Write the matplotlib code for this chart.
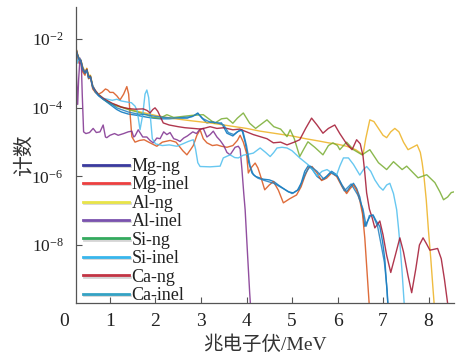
import numpy as np
import matplotlib
matplotlib.use("Agg")
import matplotlib.pyplot as plt
from matplotlib.lines import Line2D
from matplotlib import patheffects as pe
from matplotlib import transforms as mtrans
from matplotlib.ticker import FixedLocator, FixedFormatter, NullLocator

# ---------------------------------------------------------------- data
# energies in MeV, counts stored as log10 exponents
series_names = ["Mg-ng", "Mg-inel", "Al-ng", "Al-inel",
                "Si-ng", "Si-inel", "Ca-ng", "Ca-inel"]

early_x = [0.25, 0.28, 0.32, 0.36, 0.40, 0.45, 0.49, 0.53, 0.57, 0.62, 0.68, 0.75, 0.85, 0.95]

mg_ng_x = early_x + [1.05, 1.15, 1.25, 1.4, 1.6, 1.8, 1.95, 2.1, 2.3, 2.5, 2.7, 2.85, 2.93, 3.02,
                     3.13, 3.25, 3.35, 3.45, 3.57, 3.7, 3.8, 3.9, 3.97, 4.05, 4.12, 4.2, 4.37,
                     4.5, 4.6, 4.7, 4.81, 4.92, 5.03, 5.12, 5.2, 5.28, 5.36, 5.45, 5.55, 5.65,
                     5.76, 5.87, 5.98, 6.1, 6.2, 6.28, 6.35, 6.42, 6.49, 6.55, 6.6, 6.66, 6.72,
                     6.78, 6.85, 6.93, 6.99, 7.04, 7.08, 7.12]
mg_ng_e = [-2.3, -2.45, -2.6, -2.65, -2.9, -3.0, -2.9, -3.15, -3.1, -3.4, -3.55, -3.65, -3.75, -3.85,
           -3.95, -4.05, -4.12, -4.18, -4.22, -4.27, -4.3, -4.32, -4.32, -4.3, -4.3, -4.22, -4.15, -4.3,
           -4.44, -4.4, -4.45, -4.44, -4.74, -4.82, -4.7, -4.64, -5.0, -5.6, -5.9, -6.0, -6.08,
           -6.1, -6.15, -6.25, -6.35, -6.45, -6.48, -6.4, -6.2, -5.85, -5.68, -5.8, -6.0, -6.1,
           -6.0, -5.85, -5.95, -6.25, -6.45, -6.3, -6.2, -6.35, -6.6, -7.0, -7.46, -7.3, -7.15,
           -7.12, -7.3, -7.46, -7.9, -8.42, -9.2, -10.0]

mg_inel_x = [0.25, 0.28, 0.32, 0.36, 0.40, 0.45, 0.49, 0.53, 0.57, 0.62, 0.68, 0.75, 0.82, 0.9,
             0.95, 1.0, 1.07, 1.15, 1.22, 1.3, 1.37, 1.41, 1.44, 1.48, 1.55, 1.65, 1.75, 1.85,
             2.03, 2.15, 2.32, 2.45, 2.6, 2.69, 2.78, 2.83, 2.91, 2.98, 3.05, 3.13, 3.25, 3.35,
             3.45, 3.57, 3.7, 3.8, 3.86, 3.93, 4.0, 4.04, 4.1, 4.19, 4.25, 4.3, 4.4, 4.5, 4.59,
             4.7, 4.81, 4.95, 5.1, 5.2, 5.28, 5.36, 5.44, 5.55, 5.65, 5.76, 5.87, 5.98, 6.1, 6.2,
             6.28, 6.35, 6.42, 6.49, 6.55, 6.6, 6.65, 6.71]
mg_inel_e = [-2.2, -2.5, -2.7, -2.7, -2.95, -3.05, -2.85, -3.15, -3.1, -3.45, -3.55, -3.6, -3.55,
             -3.45, -3.48, -3.55, -3.55, -3.65, -3.77, -3.6, -3.38, -3.6, -4.15, -4.84, -5.0, -4.95,
             -4.93, -5.0, -5.12, -5.0, -4.95, -5.0, -5.25, -5.37, -5.2, -5.1, -4.8, -4.64, -4.9,
             -5.02, -5.1, -5.08, -5.12, -5.15, -5.1, -4.95, -4.8, -5.0, -5.32, -5.9, -5.75, -5.61,
             -5.75, -5.95, -6.39, -6.25, -6.15, -6.4, -6.77, -6.65, -6.54, -6.3, -6.0, -5.75, -5.71,
             -5.9, -6.12, -6.05, -5.9, -6.0, -6.3, -6.5, -6.35, -6.25, -6.4, -6.7, -7.1, -7.8, -8.8,
             -10.0]

al_ng_x = early_x + [1.05, 1.15, 1.25, 1.4, 1.6, 1.8, 2.0, 2.2, 2.5, 2.8, 3.2, 3.6, 4.0, 4.3,
                     4.6, 5.0, 5.3, 5.6, 5.8, 6.0, 6.2, 6.4, 6.56, 6.62, 6.71, 6.8, 6.9, 7.0,
                     7.08, 7.17, 7.26, 7.35, 7.45, 7.55, 7.65, 7.75, 7.82, 7.86, 7.9, 7.95, 8.0,
                     8.05, 8.1, 8.14]
al_ng_e = [-2.25, -2.4, -2.55, -2.6, -2.8, -2.95, -2.85, -3.05, -3.05, -3.35, -3.5, -3.6, -3.72,
           -3.8, -3.88, -3.93, -3.97, -4.03, -4.1, -4.16, -4.22, -4.27, -4.33, -4.38, -4.44,
           -4.52, -4.6, -4.68, -4.74, -4.82, -4.9, -4.97, -5.02, -5.06, -5.12, -5.22, -5.37,
           -4.9, -4.35, -4.4, -4.6, -4.8, -4.87, -4.7, -4.6, -4.7, -5.0, -5.22, -5.15, -5.08,
           -5.3, -5.6, -6.0, -6.68, -7.6, -8.4, -9.3, -10.0]

al_inel_x = [0.25, 0.27, 0.29, 0.31, 0.34, 0.37, 0.39, 0.42, 0.47, 0.55, 0.63, 0.7, 0.78, 0.85,
             0.9, 0.93, 1.0, 1.1, 1.18, 1.3, 1.4, 1.48, 1.52, 1.55, 1.62, 1.72, 1.81, 1.88, 1.95,
             2.03, 2.1, 2.18, 2.25, 2.32, 2.4, 2.47, 2.54, 2.62, 2.7, 2.82, 2.9, 2.98, 3.05, 3.13,
             3.2, 3.27, 3.35, 3.42, 3.5, 3.57, 3.64, 3.7, 3.75, 3.82, 3.86, 3.9, 3.94, 3.97, 4.02,
             4.07, 4.1]
al_inel_e = [-2.4, -3.3, -3.9, -3.2, -2.55, -2.7, -3.6, -4.7, -4.75, -4.72, -4.6, -4.72, -4.7,
             -4.5, -4.85, -4.87, -4.8, -4.75, -4.8, -4.75, -4.7, -4.68, -4.85, -4.82, -4.64,
             -4.85, -4.85, -4.95, -5.02, -4.88, -4.9, -4.7, -4.78, -4.72, -4.9, -4.93, -4.98,
             -4.88, -4.82, -4.7, -4.75, -4.62, -4.6, -4.85, -4.78, -4.68, -4.85, -4.95, -5.1,
             -5.3, -5.37, -5.25, -5.15, -5.12, -5.2, -5.8, -6.5, -6.97, -8.2, -9.4, -10.0]

si_ng_x = early_x + [1.05, 1.15, 1.25, 1.4, 1.6, 1.8, 1.95, 2.1, 2.25, 2.4, 2.6, 2.8, 3.05, 3.2,
                     3.3, 3.45, 3.57, 3.7, 3.8, 3.93, 4.07, 4.2, 4.3, 4.45, 4.6, 4.75, 4.89, 4.96,
                     5.05, 5.17, 5.26, 5.35, 5.5, 5.68, 5.8, 5.9, 6.0, 6.05, 6.2, 6.35, 6.54, 6.71,
                     6.9, 7.08, 7.23, 7.42, 7.52, 7.77, 7.96, 8.14, 8.25, 8.33, 8.42, 8.5, 8.56]
si_ng_e = [-2.25, -2.42, -2.58, -2.62, -2.82, -2.97, -2.88, -3.08, -3.07, -3.37, -3.52, -3.62,
           -3.74, -3.83, -3.9, -3.95, -3.98, -4.05, -4.12, -4.2, -4.28, -4.3, -4.2, -4.28, -4.25,
           -4.22, -4.2, -4.35, -4.45, -4.32, -4.3, -4.45, -4.3, -4.15, -4.45, -4.6, -4.5, -4.35,
           -4.55, -4.62, -4.84, -4.64, -4.9, -5.42, -5.2, -4.99, -5.15, -5.37, -5.1, -5.02, -5.1,
           -5.22, -5.0, -5.22, -5.37, -5.22, -5.6, -5.8, -5.57, -5.8, -5.7, -6.04, -5.95, -6.18,
           -6.45, -6.68, -6.6, -6.47, -6.45]

si_inel_x = [0.25, 0.28, 0.32, 0.36, 0.40, 0.45, 0.49, 0.53, 0.57, 0.62, 0.68, 0.75, 0.85, 0.95,
             1.05, 1.15, 1.25, 1.37, 1.47, 1.55, 1.6, 1.66, 1.72, 1.77, 1.81, 1.85, 1.89, 1.93,
             2.0, 2.15, 2.3, 2.47, 2.6, 2.72, 2.83, 2.88, 2.93, 2.98, 3.2, 3.42, 3.49, 3.64, 3.74,
             3.82, 3.93, 4.05, 4.15, 4.3, 4.42, 4.52, 4.6, 4.67, 4.78, 4.89, 5.0, 5.17, 5.3, 5.4,
             5.55, 5.66, 5.77, 5.88, 5.98, 6.05, 6.13, 6.24, 6.35, 6.49, 6.57, 6.64, 6.73, 6.82,
             6.92, 7.0, 7.08, 7.15, 7.23, 7.3, 7.34, 7.37, 7.42, 7.48]
si_inel_e = [-2.3, -2.7, -2.55, -2.6, -2.85, -2.95, -2.9, -3.1, -3.1, -3.35, -3.5, -3.62, -3.72,
             -3.75, -3.78, -3.75, -3.8, -3.83, -3.85, -3.95, -4.1, -4.64, -4.2, -3.6, -3.48, -3.7,
             -4.3, -4.9, -5.05, -5.1, -5.08, -5.12, -5.05, -4.98, -4.93, -5.2, -5.6, -5.71, -5.72,
             -5.7, -5.46, -5.37, -5.45, -5.46, -5.38, -5.35, -5.32, -5.17, -5.3, -5.42, -5.3,
             -5.17, -5.15, -5.17, -5.25, -5.46, -5.6, -5.71, -5.99, -5.85, -5.8, -5.9, -5.96,
             -5.7, -5.46, -5.46, -5.65, -5.96, -5.8, -5.71, -5.85, -6.1, -6.3, -6.4, -6.25, -6.2,
             -6.5, -6.97, -7.5, -7.94, -8.8, -10.0]

ca_ng_x = early_x + [1.05, 1.15, 1.25, 1.4, 1.55, 1.73, 1.82, 1.88, 1.94, 1.99, 2.05, 2.17, 2.3,
                     2.5, 2.65, 2.83, 3.0, 3.2, 3.35, 3.5, 3.7, 3.85, 4.0, 4.15, 4.3, 4.45, 4.59,
                     4.75, 4.89, 5.05, 5.17, 5.3, 5.43, 5.55, 5.68, 5.8, 5.94, 6.05, 6.2, 6.32,
                     6.42, 6.5, 6.56, 6.6, 6.64, 6.7, 6.76, 6.82, 6.93, 7.0, 7.08, 7.17, 7.27,
                     7.37, 7.45, 7.55, 7.63, 7.72, 7.8, 7.88, 7.95, 8.03, 8.1, 8.2, 8.28, 8.35,
                     8.4, 8.45]
ca_ng_e = [-2.25, -2.42, -2.58, -2.62, -2.85, -2.98, -2.88, -3.1, -3.08, -3.38, -3.5, -3.62,
           -3.72, -3.8, -3.87, -3.92, -3.98, -4.02, -4.04, -4.03, -4.08, -4.15, -4.05, -4.0,
           -4.1, -4.44, -4.5, -4.55, -4.58, -4.6, -4.62, -4.55, -4.6, -4.58, -4.64, -4.62, -4.7,
           -4.78, -4.84, -4.9, -5.02, -5.0, -5.08, -5.0, -4.93, -4.6, -4.3, -4.5, -4.74, -4.6,
           -4.5, -4.75, -5.05, -5.22, -4.93, -5.05, -5.4, -5.9, -6.48, -6.95, -7.2, -7.5, -7.3,
           -7.7, -8.3, -8.8, -8.3, -7.79, -8.2, -8.9, -9.39, -8.7, -8.0, -7.79, -7.95, -8.15,
           -8.13, -8.1, -8.4, -9.0, -9.5, -10.0]

ca_inel_x = early_x + [1.05, 1.15, 1.25, 1.4, 1.6, 1.8, 2.0, 2.2, 2.4, 2.6, 2.8, 2.93, 3.05, 3.2,
                       3.35, 3.5, 3.6, 3.72, 3.85, 3.92, 4.0, 4.08, 4.15, 4.25, 4.4, 4.6, 4.8,
                       5.0, 5.15, 5.3, 5.4, 5.55, 5.7, 5.85, 6.0, 6.15, 6.3, 6.45, 6.56, 6.63,
                       6.7, 6.78, 6.88, 6.96, 7.03, 7.09, 7.12]
ca_inel_e = [-2.28, -2.43, -2.58, -2.63, -2.88, -2.99, -2.9, -3.12, -3.1, -3.4, -3.53, -3.64,
             -3.75, -3.83, -3.9, -4.0, -4.05, -4.12, -4.18, -4.2, -4.25, -4.28, -4.3, -4.28,
             -4.26, -4.17, -4.32, -4.42, -4.43, -4.5, -4.72, -4.78, -4.65, -4.68, -5.1, -5.7,
             -5.95, -6.05, -6.12, -6.2, -6.35, -6.5, -6.38, -5.9, -5.7, -5.85, -6.08, -5.88,
             -6.0, -6.42, -6.22, -6.55, -6.95, -7.45, -7.14, -7.14, -7.45, -8.0, -8.5, -9.3,
             -10.0]

series_x = [mg_ng_x, mg_inel_x, al_ng_x, al_inel_x, si_ng_x, si_inel_x, ca_ng_x, ca_inel_x]
series_e = [mg_ng_e, mg_inel_e, al_ng_e, al_inel_e, si_ng_e, si_inel_e, ca_ng_e, ca_inel_e]

xtick_values = [1, 2, 3, 4, 5, 6, 7, 8]
ytick_values = [1e-2, 1e-4, 1e-6, 1e-8]
ytick_labels = [r"$10^{-2}$", r"$10^{-4}$", r"$10^{-6}$", r"$10^{-8}$"]

# --------------------------------------------------------------- styles
line_colors = ["#0072BD", "#D95319", "#EDB120", "#7E2F8E",
               "#77AC30", "#4DBEEE", "#A2142F", "#1F7FC0"]
legend_colors = ["#3A3A9E", "#EC4040", "#E8E448", "#7A52AE",
                 "#34AA5E", "#38B6EC", "#C23444", "#34A2C4"]

plt.rcParams["font.family"] = ["Liberation Serif", "Noto Sans CJK SC"]
plt.rcParams["mathtext.fontset"] = "custom"
plt.rcParams["mathtext.rm"] = "Liberation Serif"
plt.rcParams["mathtext.it"] = "Liberation Serif:italic"
plt.rcParams["mathtext.default"] = "rm"

fig = plt.figure(figsize=(4.58, 3.53), dpi=100)
ax = fig.add_axes([76 / 458, 1 - 303 / 353, (454 - 76) / 458, (303 - 7) / 353])

for xs, es, c in zip(series_x, series_e, line_colors):
    ax.plot(xs, 10.0 ** np.asarray(es), color=c, lw=1.0, alpha=0.85,
            solid_joinstyle="round")

ax.set_yscale("log")
ax.set_xlim(0.253, 8.56)
ax.set_ylim(10 ** -9.69, 10 ** -1.06)

ax.xaxis.set_major_locator(FixedLocator(xtick_values))
ax.xaxis.set_minor_locator(NullLocator())
ax.yaxis.set_major_locator(FixedLocator(ytick_values))
ax.yaxis.set_major_formatter(FixedFormatter(ytick_labels))
ax.yaxis.set_minor_locator(NullLocator())

spine_col = "#555555"
for side in ("top", "right"):
    ax.spines[side].set_visible(False)
for side in ("left", "bottom"):
    ax.spines[side].set_color(spine_col)
    ax.spines[side].set_linewidth(0.9)

ax.tick_params(axis="x", direction="in", length=4, width=0.8, color=spine_col,
               labelsize=14, pad=7, labelcolor="#222222")
ax.tick_params(axis="y", direction="in", length=4, width=0.8, color=spine_col,
               labelsize=12.5, pad=9, labelcolor="#222222")

# the zero label sits left of the axis start
zero_tr = mtrans.offset_copy(ax.get_xaxis_transform(), fig=fig, y=-7, units="points")
ax.text(0, 0, "0", transform=zero_tr, ha="center", va="top", fontsize=14,
        color="#222222")

ax.set_xlabel("兆电子伏/MeV", fontsize=14, color="#333333", labelpad=4)
ax.set_ylabel("计数", fontsize=15, color="#333333", labelpad=-3)

handles = [Line2D([], [], color=c, lw=2.0) for c in legend_colors]
leg = ax.legend(handles, series_names, loc="upper left",
                bbox_to_anchor=(0.018, 0.49), frameon=False, fontsize=13,
                handlelength=2.55, handletextpad=0.15, labelspacing=0.08,
                borderpad=0.0, borderaxespad=0.0)
for ln in leg.get_lines():
    ln.set_path_effects([pe.SimpleLineShadow(offset=(0.6, -1.0), shadow_color="#888888",
                                             alpha=0.35), pe.Normal()])
for t in leg.get_texts():
    t.set_color("#222222")

fig.savefig("out.png", dpi=100)
